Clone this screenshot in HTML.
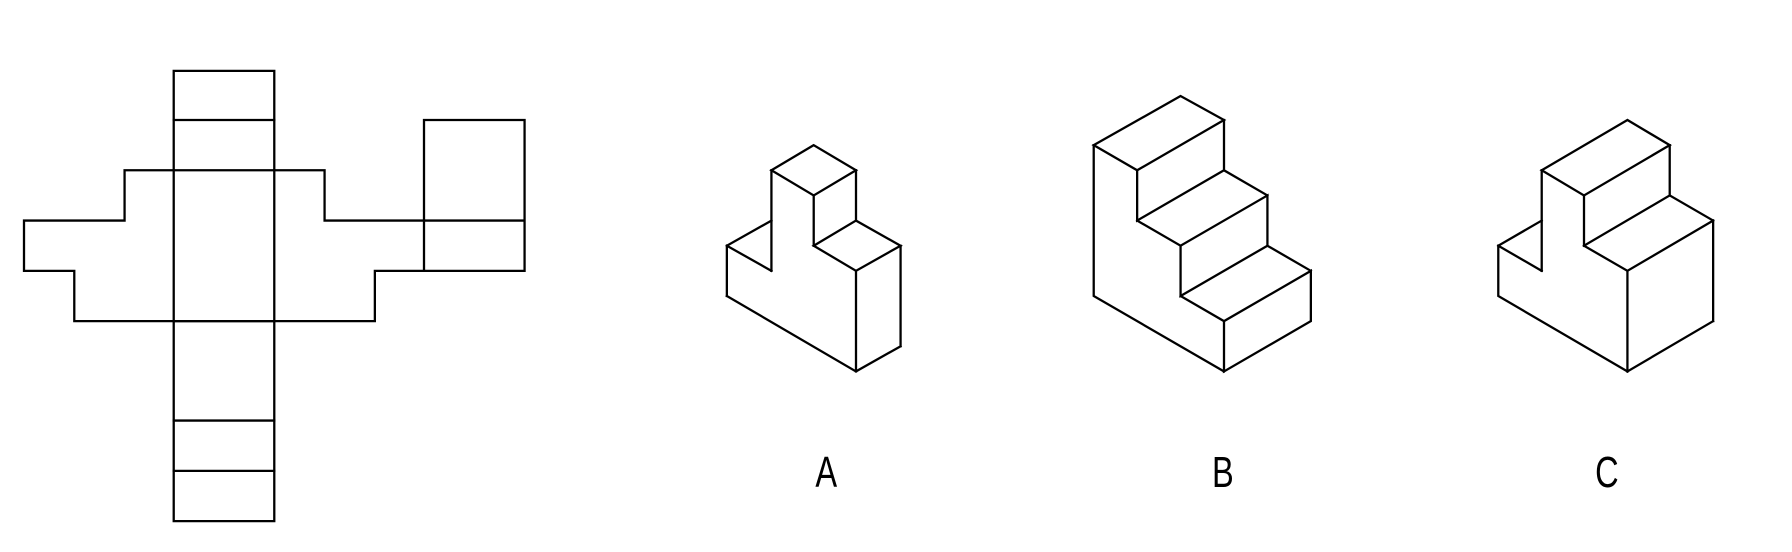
<!DOCTYPE html>
<html><head><meta charset="utf-8"><style>html,body{margin:0;padding:0;background:#fff}svg{display:block}</style></head>
<body>
<svg width="1792" height="552" viewBox="0 0 1568 483" xmlns="http://www.w3.org/2000/svg">
<g fill="none" stroke="#000" stroke-width="2" stroke-linejoin="miter" stroke-linecap="square">
<g>
<path d="M152,62H240V456H152Z"/>
<path d="M152,105H240M152,149H240M152,281H240M152,368H240M152,412H240"/>
<path d="M152,149H109V193H21V237H65V281H328V237H371M240,149H284V193H371"/>
<path d="M371,105H459V237H371ZM371,193H459"/>
</g>
<g>
<path d="M712,127L675,149L712,171L749,149Z"/>
<path d="M675,149V237M749,149V193M712,171V215"/>
<path d="M636,215L675,193M636,215L675,237M636,215V259"/>
<path d="M712,215L749,193L788,215L749,237Z"/>
<path d="M749,237V325M788,215V303M636,259L749,325L788,303"/>
</g>
<g>
<path d="M1033,84L957,127L995,149L1071,105Z"/>
<path d="M1071,105V149L1109,171M995,149V193L1071,149M995,193L1033,215L1109,171V215L1147,237"/>
<path d="M1033,215V259L1109,215M1033,259L1071,281L1147,237V281L1071,325V281"/>
<path d="M957,127V259L1071,325"/>
</g>
<g>
<path d="M1424,105L1349,149L1386,171L1461,127Z"/>
<path d="M1461,127V171M1349,149V237M1386,171V215"/>
<path d="M1386,215L1461,171L1499,193M1386,215L1424,237L1499,193"/>
<path d="M1499,193V281M1424,237V325M1424,325L1499,281"/>
<path d="M1311,215L1349,193M1311,215L1349,237M1311,215V259L1424,325"/>
</g>
</g>
<g font-family="Liberation Sans, sans-serif" font-size="38" fill="#000" text-anchor="middle">
<text transform="translate(723,426) scale(0.75,1)">A</text>
<text transform="translate(1070,426) scale(0.75,1)">B</text>
<text transform="translate(1406,426) scale(0.75,1)">C</text>
</g>
</svg>
</body></html>
